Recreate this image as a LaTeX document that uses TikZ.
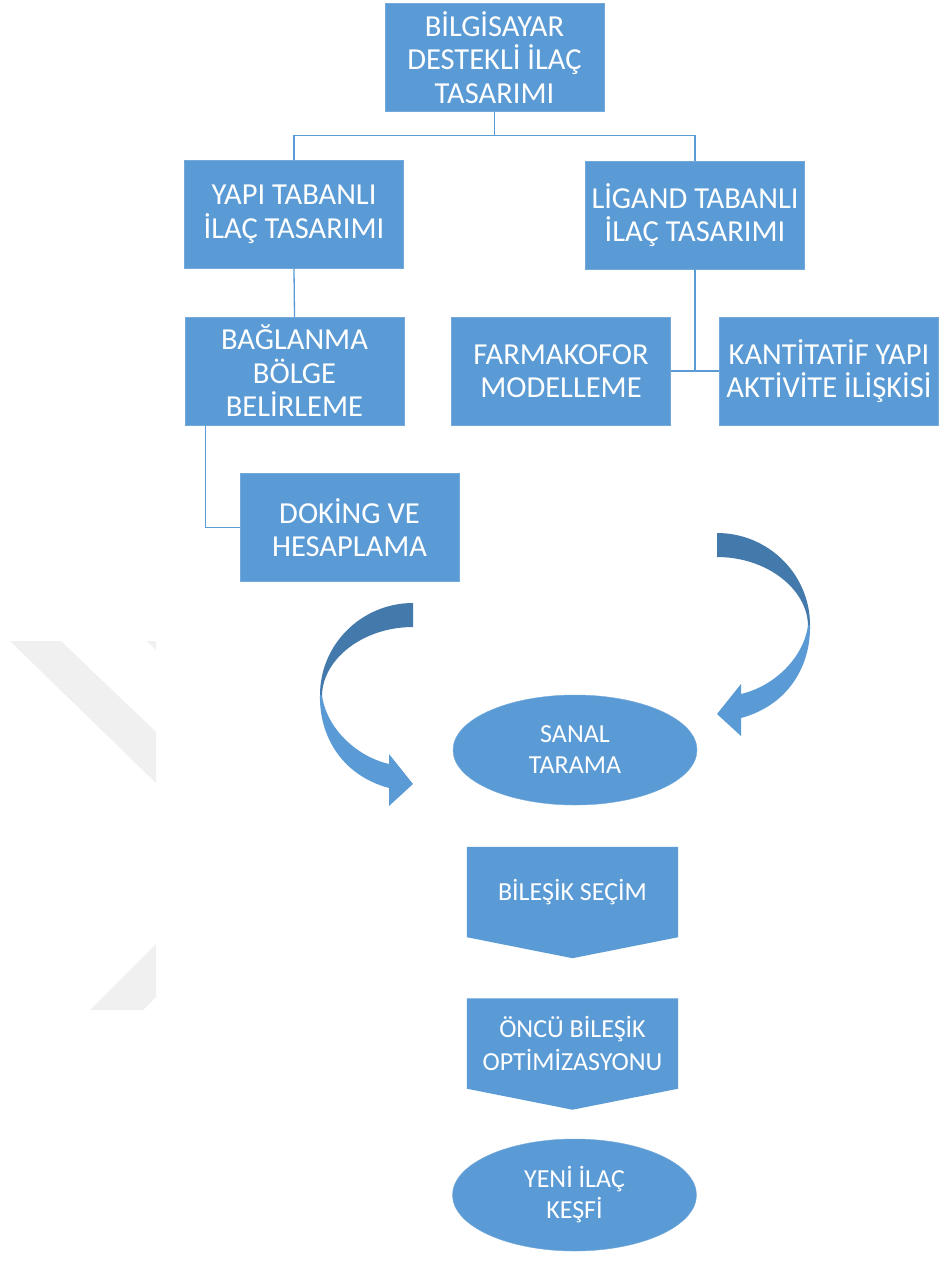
\documentclass[tikz,border=0pt]{standalone}
\usepackage{fontspec}
\setmainfont{Carlito}
\usepackage{tikz}
\usetikzlibrary{calc,backgrounds,shapes.geometric}
\definecolor{boxblue}{HTML}{5B9BD5}
\definecolor{darkblue}{HTML}{4479AB}
\definecolor{markgray}{HTML}{F0F0F0}

\begin{document}
\begin{tikzpicture}[x=1pt, y=-1pt,
  box/.style={draw=boxblue!85!white, fill=boxblue, text=white, minimum width=219pt,
              minimum height=108pt, inner sep=2pt, align=center,
              font=\fontsize{30.5}{33.5}\selectfont},
  oval/.style={ellipse, draw=boxblue!85!white, fill=boxblue, text=white, minimum width=244pt,
               minimum height=110pt, inner sep=0pt, align=center,
               font=\fontsize{26}{31}\selectfont},
  pentbox/.style={minimum width=211pt, minimum height=90pt, inner sep=0pt, text=white,
                  align=center, font=\fontsize{26}{33}\selectfont},
  conn/.style={draw=boxblue, line width=1.3pt},
  curvedarrow/.pic={
    \fill[boxblue] (93,92) .. controls (94,132) and (72,172) .. (24,185) -- (24,203)
      -- (0,181) -- (24,151) -- (24,161) .. controls (58,153) and (87,124) .. (91,92) -- cycle;
    \fill[darkblue] (0,0) .. controls (51,0) and (93,41) .. (93,92) -- (91,92)
      .. controls (90,56) and (50,24) .. (0,24) -- cycle;
  }
]

\begin{scope}[on background layer]
  \fill[white] (0,0) rectangle (941,1262);
\end{scope}
\useasboundingbox (0,0) rectangle (941,1262);

% Watermark
\fill[markgray] (10,641) -- (61,641) -- (156,732) -- (156,783) -- cycle;
\fill[markgray] (147,641) -- (156,641) -- (156,650) -- cycle;
\fill[markgray] (90,1010) -- (143,1010) -- (156,997) -- (156,944) -- cycle;

% Boxes
\node[box] (tasarim) at (494.5, 57.5) {BİLGİSAYAR\\DESTEKLİ İLAÇ\\TASARIMI};
\node[box] (yapi) at (294, 214.5) {YAPI TABANLI\\İLAÇ TASARIMI};
\node[box] (ligand) at (695, 215) {LİGAND TABANLI\\İLAÇ TASARIMI};
\node[box] (baglanma) at (294.5, 371) {BAĞLANMA\\BÖLGE\\BELİRLEME};
\node[box] (farmakofor) at (561, 371) {FARMAKOFOR\\MODELLEME};
\node[box] (kantitatif) at (829, 371) {KANTİTATİF YAPI\\AKTİVİTE İLİŞKİSİ};
\node[box] (doking) at (349.5, 527.5) {DOKİNG VE\\HESAPLAMA};

% Lower flow
\node[oval] (sanal) at (575, 750) {SANAL\\TARAMA};
\node[pentbox] (secim) at (572.5, 892) {BİLEŞİK SEÇİM};
\node[pentbox] (optim) at (572.5, 1043.5) {ÖNCÜ BİLEŞİK\\OPTİMİZASYONU};
\node[oval, minimum height=112pt] (yeni) at (574.5, 1195) {YENİ İLAÇ\\KEŞFİ};

\begin{scope}[on background layer]
  \foreach \n in {secim, optim}
    \fill[boxblue] (\n.north west) -- (\n.north east) -- (\n.south east)
      -- ([yshift=-21pt]\n.south) -- (\n.south west) -- cycle;
\end{scope}

% Connectors
\coordinate (split) at ($(tasarim.south)+(0,24)$);
\draw[conn] (tasarim.south) -- (split);
\draw[conn] (yapi.north) |- (split) -| (ligand.north);
\draw[conn] (yapi.south) -- (baglanma.north);
\draw[conn] (ligand.south) -- (ligand.south |- farmakofor.east);
\draw[conn] (farmakofor.east) -- (kantitatif.west);
\draw[conn] ($(baglanma.south west)+(21,0)$) |- (doking.west);

% Curved arrows
\pic at (717,533) {curvedarrow};
\pic[xscale=-1] at (413,603) {curvedarrow};

\end{tikzpicture}
\end{document}
